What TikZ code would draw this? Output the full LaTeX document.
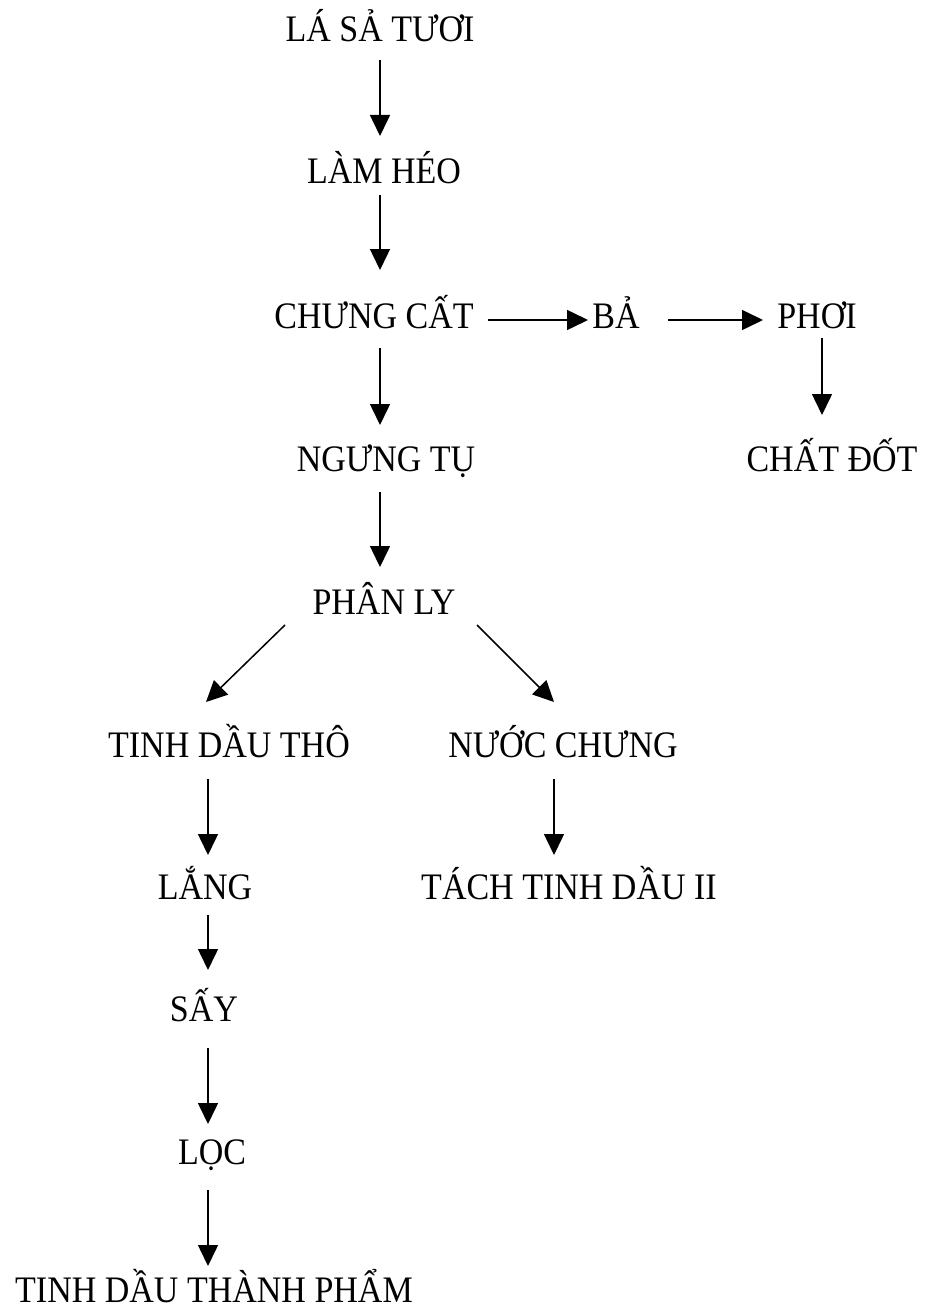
\documentclass[tikz,border=0pt]{standalone}
\usepackage{fontspec}
\setmainfont{Liberation Serif}
\usetikzlibrary{arrows.meta}
\begin{document}
\begin{tikzpicture}[x=1pt,y=-1pt,
  lbl/.style={anchor=base, inner sep=0pt, font=\fontsize{34}{40}\selectfont, yscale=1.1, transform shape},
  arr/.style={line width=1.5pt, -{Triangle[length=21pt,width=20pt]}}]
\useasboundingbox (0,0) rectangle (926,1308);
\node[lbl] (lasa) at (380,42) {LÁ SẢ TƯƠI};
\node[lbl] (lamheo) at (384,184) {LÀM HÉO};
\node[lbl] (chungcat) at (374,328) {CHƯNG CẤT};
\node[lbl] (ba) at (616,328) {BẢ};
\node[lbl] (phoi) at (817,328) {PHƠI};
\node[lbl] (chatdot) at (832,471) {CHẤT ĐỐT};
\node[lbl] (ngungtu) at (386,471) {NGƯNG TỤ};
\node[lbl] (phanly) at (384,614) {PHÂN LY};
\node[lbl] (tdtho) at (229,757) {TINH DẦU THÔ};
\node[lbl] (nuocchung) at (563,757) {NƯỚC CHƯNG};
\node[lbl] (lang) at (205,899) {LẮNG};
\node[lbl] (tach) at (569,899) {TÁCH TINH DẦU II};
\node[lbl] (say) at (204,1021) {SẤY};
\node[lbl] (loc) at (212,1164) {LỌC};
\node[lbl] (tdtp) at (214,1302) {TINH DẦU THÀNH PHẨM};

\draw[arr] ([shift={(0,18)}]lasa.base) -- ([shift={(-4,-48)}]lamheo.base);
\draw[arr] ([shift={(-4,11)}]lamheo.base) -- ([shift={(6,-58)}]chungcat.base);
\draw[arr] ([shift={(6,20)}]chungcat.base) -- ([shift={(-6,-46)}]ngungtu.base);
\draw[arr] ([shift={(-6,21)}]ngungtu.base) -- ([shift={(-4,-47)}]phanly.base);
\draw[arr] ([shift={(-99,11)}]phanly.base) -- ([shift={(-23,-55)}]tdtho.base);
\draw[arr] ([shift={(93,11)}]phanly.base) -- ([shift={(-9,-55)}]nuocchung.base);
\draw[arr] ([shift={(-21,22)}]tdtho.base) -- ([shift={(3,-44)}]lang.base);
\draw[arr] ([shift={(-9,22)}]nuocchung.base) -- ([shift={(-15,-44)}]tach.base);
\draw[arr] ([shift={(3,16)}]lang.base) -- ([shift={(4,-51)}]say.base);
\draw[arr] ([shift={(4,27)}]say.base) -- ([shift={(-4,-40)}]loc.base);
\draw[arr] ([shift={(-4,26)}]loc.base) -- ([shift={(-6,-36)}]tdtp.base);
\draw[arr] ([shift={(114,-8)}]chungcat.base) -- ([shift={(-28,-8)}]ba.base);
\draw[arr] ([shift={(52,-8)}]ba.base) -- ([shift={(-54,-8)}]phoi.base);
\draw[arr] ([shift={(5,10)}]phoi.base) -- ([shift={(-10,-56)}]chatdot.base);
\end{tikzpicture}
\end{document}
